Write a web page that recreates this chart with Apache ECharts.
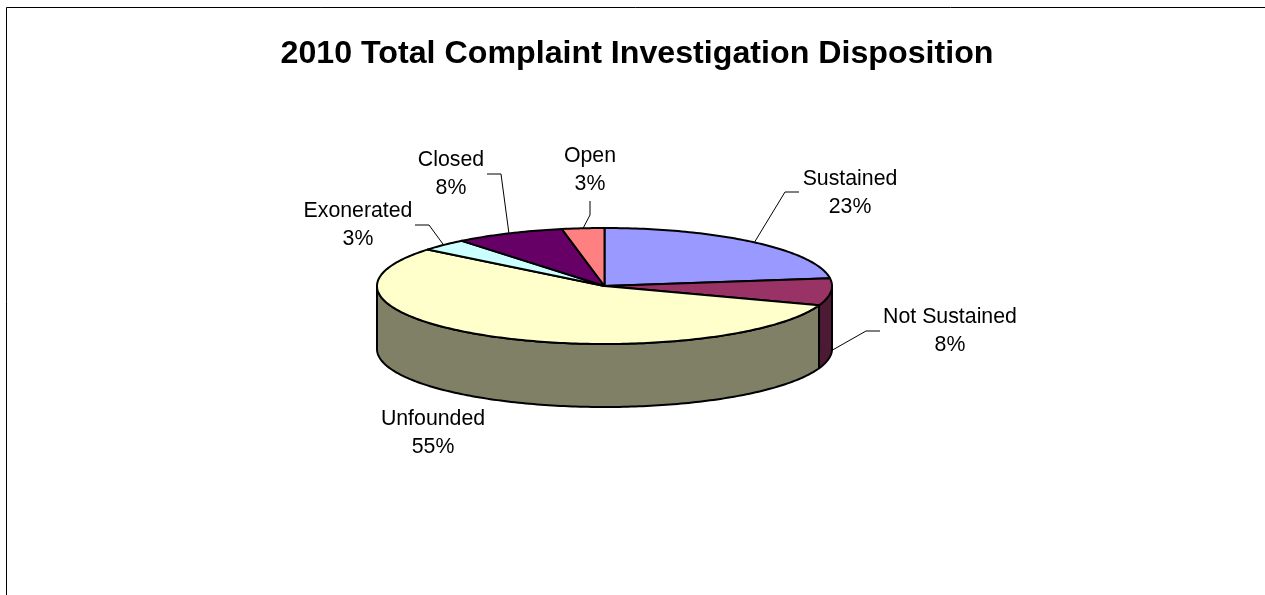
<!DOCTYPE html>
<html>
<head>
<meta charset="utf-8">
<style>
  html, body { margin: 0; padding: 0; background: #fff; }
  #chart { width: 1265px; height: 595px; }
</style>
</head>
<body>
<div id="chart"></div>
<script src="https://cdn.jsdelivr.net/npm/echarts@6/dist/echarts.min.js"></script>
<script>
  const titleText = '2010 Total Complaint Investigation Disposition'
  const categories = ['Sustained', 'Not Sustained', 'Unfounded', 'Exonerated', 'Closed', 'Open']
  const values = [22.9, 7.5, 55.4, 3.4, 7.8, 3.0]
  const topColors = ['#9999ff', '#993366', '#ffffcc', '#ccffff', '#660066', '#ff8080']
  const sideColors = ['#4d4d80', '#4d1a33', '#808066', '#668080', '#330033', '#804040']

  // where the text sits, and the elbow of each leader line (null = no leader)
  const labelCenters = [[850, 193], [950, 331], [433, 433], [358, 225], [451, 174], [590, 170]]
  const leaderElbows = [
    [[785, 192], [799, 192]],
    [[866, 331], [880, 331]],
    null,
    [[429, 225], [415, 225]],
    [[501, 174], [487, 174]],
    [[590, 215], [590, 201]]
  ]

  const cx = 604.5
  const cy = 286
  const rx = 227.5
  const ry = 58
  const depth = 63

  const total = values.reduce((a, b) => a + b, 0)

  // start / end angle of a slice, degrees clockwise from 12 o'clock
  function sliceAngles(i) {
    const before = values.slice(0, i).reduce((a, b) => a + b, 0)
    return [(before / total) * 360, ((before + values[i]) / total) * 360]
  }

  function rimPoint(deg, drop) {
    const a = (deg * Math.PI) / 180
    return [cx + rx * Math.sin(a), cy - ry * Math.cos(a) + (drop || 0)]
  }

  function arcPoints(from, to, drop) {
    const pts = []
    const steps = Math.max(2, Math.ceil(Math.abs(to - from)))
    for (let s = 0; s <= steps; s++) {
      pts.push(rimPoint(from + ((to - from) * s) / steps, drop))
    }
    return pts
  }

  function renderWall(params) {
    const i = params.dataIndex
    const [a0, a1] = sliceAngles(i)
    // only the front half of the rim shows a wall
    const from = Math.max(a0, 90)
    const to = Math.min(a1, 270)
    if (to <= from) return { type: 'group', children: [] }
    return {
      type: 'polygon',
      shape: { points: arcPoints(from, to, 0).concat(arcPoints(to, from, depth)) },
      style: { fill: sideColors[i], stroke: '#000', lineWidth: 2, lineJoin: 'round' }
    }
  }

  function renderTop(params) {
    const i = params.dataIndex
    const [a0, a1] = sliceAngles(i)
    return {
      type: 'polygon',
      shape: { points: [[cx, cy]].concat(arcPoints(a0, a1, 0)) },
      style: { fill: topColors[i], stroke: '#000', lineWidth: 2, lineJoin: 'round' }
    }
  }

  function renderLabel(params) {
    const i = params.dataIndex
    const [a0, a1] = sliceAngles(i)
    const mid = (a0 + a1) / 2
    const children = [
      {
        type: 'text',
        x: labelCenters[i][0],
        y: labelCenters[i][1],
        style: {
          text: categories[i] + '\n' + Math.round((values[i] / total) * 100) + '%',
          fontFamily: '"Liberation Sans", Arial, sans-serif',
          fontSize: 21.3,
          lineHeight: 28,
          fill: '#000',
          align: 'center',
          verticalAlign: 'middle'
        }
      }
    ]
    if (leaderElbows[i]) {
      // front facing slices leave from the bottom of the wall
      const drop = mid > 90 && mid < 270 ? depth - 4 : 0
      children.push({
        type: 'polyline',
        shape: { points: [rimPoint(mid, drop)].concat(leaderElbows[i]) },
        style: { fill: null, stroke: '#000', lineWidth: 1 }
      })
    }
    return { type: 'group', children }
  }

  const chart = echarts.init(document.getElementById('chart'), null, { width: 1265, height: 595 })

  const option = {
    animation: false,
    backgroundColor: '#fff',
    title: {
      text: titleText,
      left: 632,
      top: 33,
      textAlign: 'center',
      textStyle: {
        fontFamily: '"Liberation Sans", Arial, sans-serif',
        fontSize: 32.2,
        fontWeight: 'bold',
        color: '#000'
      }
    },
    graphic: [
      {
        type: 'polyline',
        silent: true,
        shape: { points: [[6.5, 595], [6.5, 7.5], [1265, 7.5]] },
        style: { fill: null, stroke: '#000', lineWidth: 1 }
      }
    ],
    series: [
      { type: 'custom', coordinateSystem: 'none', silent: true, z: 2, data: values, renderItem: renderWall },
      { type: 'custom', coordinateSystem: 'none', silent: true, z: 3, data: values, renderItem: renderTop },
      { type: 'custom', coordinateSystem: 'none', silent: true, z: 4, data: values, renderItem: renderLabel }
    ]
  }

  chart.setOption(option)
</script>
</body>
</html>
